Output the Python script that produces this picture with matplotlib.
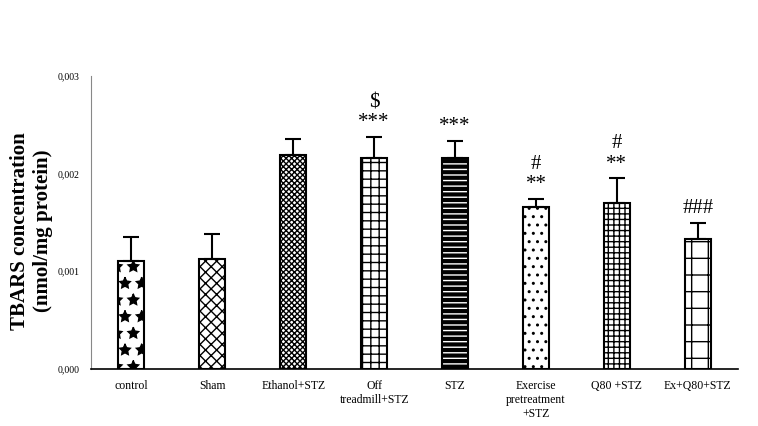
import matplotlib.pyplot as plt
import numpy as np

plt.rcParams['font.family'] = ['Liberation Serif', 'DejaVu Serif']
plt.rcParams['hatch.linewidth'] = 1.0

# data
groups = ["control", "Sham", "Ethanol+STZ", "Off\ntreadmill+STZ", "STZ",
          "Exercise\npretreatment\n+STZ", "Q80 +STZ", "Ex+Q80+STZ"]
tbars = [0.00110, 0.00112, 0.00219, 0.00216, 0.00216, 0.00166, 0.00170, 0.00133]
sem = [0.00025, 0.00026, 0.00016, 0.00021, 0.00017, 0.00008, 0.00025, 0.00016]
signs = ["", "", "", "$\n***", "***", "#\n**", "#\n**", "###"]
hatches = ["*", "xxx", "xxxxxx", "++", "---", "..", "+++", "-|"]
fills = ["white", "white", "white", "white", "black", "white", "white", "white"]
hcolors = ["black", "black", "black", "black", "white", "black", "black", "black"]
yticks = [0.0, 0.001, 0.002, 0.003]
yticklabels = ["0,000", "0,001", "0,002", "0,003"]

fig = plt.figure(figsize=(7.58, 4.26), dpi=100)
ax = fig.add_axes([0.12, 0.134, 0.854, 0.688])

x = np.arange(len(groups))
# hatched fill first, then the black outline on top
fillbars = ax.bar(x, tbars, width=0.32, linewidth=0, zorder=2)
for b, h, fc, hc in zip(fillbars, hatches, fills, hcolors):
    b.set_facecolor(fc)
    b.set_edgecolor(hc)
    b.set_hatch(h)
ax.bar(x, tbars, width=0.32, color="none", edgecolor="black",
       linewidth=1.5, zorder=2.5)
ax.errorbar(x, tbars, yerr=[np.zeros(len(sem)), sem], fmt="none",
            ecolor="black", elinewidth=1.5, capsize=6, capthick=1.5, zorder=3)

for i in range(len(groups)):
    if signs[i]:
        ax.text(x[i], tbars[i] + sem[i] + 0.00005, signs[i], ha="center",
                va="bottom", fontsize=15, linespacing=1.1)

ax.set_xlim(-0.5, 7.5)
ax.set_ylim(0, 0.003)
ax.set_yticks(yticks)
ax.set_yticklabels(yticklabels, fontsize=7)
ax.set_xticks(x)
ax.set_xticklabels(groups, fontsize=8.5)
ax.tick_params(axis="both", length=0, pad=8)
ax.spines["top"].set_visible(False)
ax.spines["right"].set_visible(False)
ax.spines["left"].set_color("#888888")
ax.spines["bottom"].set_linewidth(1.2)
ax.set_ylabel("TBARS concentration\n(nmol/mg protein)", fontsize=15,
              fontweight="bold")
ax.yaxis.set_label_coords(-0.058, 0.47)

plt.savefig("out.png")
